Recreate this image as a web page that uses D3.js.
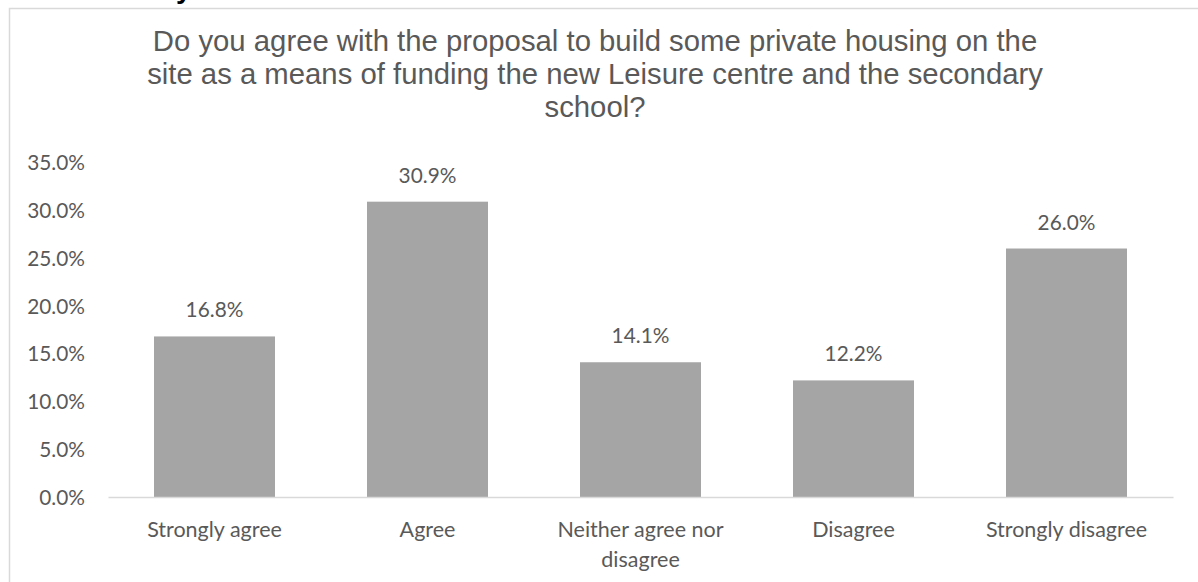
<!DOCTYPE html>
<html><head><meta charset="utf-8">
<script src="https://cdn.jsdelivr.net/npm/d3@7"></script>
<style>html,body{margin:0;padding:0;background:#fff;overflow:hidden}</style>
</head><body>
<svg id="c" width="1198" height="582"></svg>
<script>
const categories = ["Strongly agree", "Agree", "Neither agree nor disagree", "Disagree", "Strongly disagree"];
const values = [0.168, 0.309, 0.141, 0.122, 0.260];
const yTicks = [0, 0.05, 0.10, 0.15, 0.20, 0.25, 0.30, 0.35];
const titleLines = ["Do you agree with the proposal to build some private housing on the",
  "site as a means of funding the new Leisure centre and the secondary", "school?"];

const svg = d3.select("#c");
const W = 1198, H = 582;
const labelFont = "Lato, 'Open Sans', sans-serif";
const textCol = "#595959";

// frame
svg.append("rect").attr("x", 9.5).attr("y", 8.5).attr("width", W + 20).attr("height", H + 20)
  .attr("fill", "none").attr("stroke", "#d9d9d9").attr("stroke-width", 1.5);
// cropped glyph at top
svg.append("text").attr("x", 176).attr("y", -2).text("y")
  .attr("font-family", "Liberation Sans, Arial, sans-serif").attr("font-weight", "bold")
  .attr("font-size", 28).attr("fill", "#000");

// title
svg.append("g").selectAll("text").data(titleLines).join("text")
  .attr("x", 595).attr("y", (d, i) => 51 + i * 33)
  .attr("text-anchor", "middle").attr("font-family", "Liberation Sans, Arial, sans-serif")
  .attr("font-size", 29.3).attr("fill", textCol).text(d => d);

const x = d3.scaleBand().domain(categories).range([108, 1173]).paddingInner(0.432).paddingOuter(0.216);
const y = d3.scaleLinear().domain([0, 0.35]).range([497, 162.5]);

// y axis
const yAxis = d3.axisLeft(y).tickValues(yTicks).tickFormat(d3.format(".1%")).tickSize(0).tickPadding(0);
const gy = svg.append("g").attr("transform", "translate(85,0)").call(yAxis);
gy.select(".domain").remove();
gy.selectAll("text").attr("font-family", labelFont).attr("font-size", 20.8).attr("fill", textCol).attr("dy", "0.35em");

// bars
svg.append("g").selectAll("rect").data(values).join("rect")
  .attr("x", (d, i) => x(categories[i])).attr("width", x.bandwidth())
  .attr("y", d => y(d)).attr("height", d => y(0) - y(d)).attr("fill", "#a5a5a5");

// x axis
const xAxis = d3.axisBottom(x).tickSize(0).tickPadding(0);
const gx = svg.append("g").attr("transform", `translate(0,${y(0)})`).call(xAxis);
gx.select(".domain").attr("stroke", "#d9d9d9").attr("stroke-width", 1.5);
gx.selectAll(".tick text").attr("font-family", labelFont).attr("font-size", 21.5).attr("fill", textCol)
  .attr("dy", null).attr("y", null)
  .each(function(d) {
    const t = d3.select(this);
    t.text(null);
    const lines = d === "Neither agree nor disagree" ? ["Neither agree nor", "disagree"] : [d];
    lines.forEach((l, i) => t.append("tspan").attr("x", 0).attr("y", 40 + i * 30).text(l));
  });

// data labels
svg.append("g").selectAll("text").data(values).join("text")
  .attr("x", (d, i) => x(categories[i]) + x.bandwidth() / 2)
  .attr("y", d => y(d) - 19)
  .attr("text-anchor", "middle").attr("font-family", labelFont).attr("font-size", 20.8)
  .attr("fill", textCol).text(d => d3.format(".1%")(d));
</script>
</body></html>
